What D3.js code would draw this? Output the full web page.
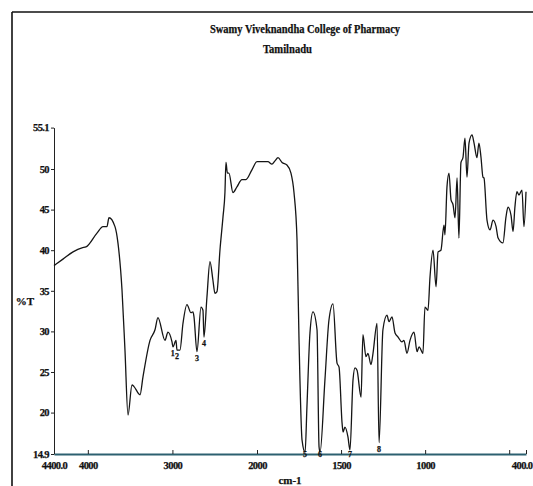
<!DOCTYPE html>
<html>
<head>
<meta charset="utf-8">
<script src="https://cdn.jsdelivr.net/npm/d3@7/dist/d3.min.js"></script>
<style>
html,body{margin:0;padding:0;background:#fff;}
svg{display:block;}
text{font-family:"Liberation Serif","DejaVu Serif",serif;font-weight:bold;fill:#111;stroke:#111;stroke-width:0.25px;}
</style>
</head>
<body>
<svg id="chart" width="533" height="486"></svg>
<script>
// ---- data ----
const wavenumbers = [4400,4294,4175,4069,4022,3892,3821,3774,3750,3679,3644,3596,3561,3525,3478,3454,3383,3348,3265,3206,3171,3088,3053,3005,2993,2958,2946,2911,2875,2828,2781,2757,2745,2710,2662,2639,2627,2592,2556,2521,2497,2473,2438,2402,2379,2367,2350,2332,2284,2237,2178,2131,2060,2000,1964,1935,1911,1893,1875,1851,1822,1798,1780,1762,1750,1732,1714,1703,1685,1667,1643,1631,1625,1596,1572,1548,1524,1512,1494,1488,1477,1459,1447,1429,1417,1405,1381,1370,1352,1340,1322,1310,1286,1274,1251,1227,1215,1197,1179,1161,1138,1126,1108,1090,1066,1048,1036,1013,1001,983,971,953,935,923,906,888,882,870,858,846,834,822,810,799,787,775,763,751,739,721,709,692,680,668,656,650,632,614,596,578,566,537,519,507,489,477,466,454,442,424,412,400];
const transmittance = [38.1,38.9,39.8,40.3,40.4,42.1,42.9,42.9,44.0,42.9,40.9,35.1,27.7,19.7,23.4,23.2,22.2,24.4,28.9,30.2,31.7,28.9,29.9,28.7,28.1,28.9,27.7,27.7,31.0,33.3,32.3,32.4,31.8,27.5,33.0,32.6,29.3,34.2,38.6,36.3,34.7,34.9,40.0,44.1,47.1,50.8,49.5,49.5,47.1,47.8,48.7,48.7,49.9,50.9,50.9,50.9,50.6,51.0,51.4,50.8,50.5,49.5,47.1,41.3,28.9,16.6,15.1,20.7,29.8,32.4,30.2,15.8,15.1,24.0,31.4,33.4,26.1,25.6,18.7,17.6,18.2,17.0,15.4,24.0,25.5,25.2,21.9,29.6,26.9,27.3,25.9,27.3,31.0,16.3,30.2,32.0,31.2,31.8,29.8,29.3,28.7,28.9,27.3,28.9,29.9,27.5,28.1,27.3,33.0,32.6,36.7,40.0,35.5,39.8,40.0,43.1,41.9,47.8,49.5,46.2,45.6,44.0,48.9,41.5,50.8,51.4,53.8,49.0,53.2,54.2,53.2,51.4,53.2,51.5,49.0,48.9,43.7,42.5,43.7,42.9,41.5,40.9,44.1,45.3,44.3,42.3,45.3,47.2,46.8,47.4,42.9,47.2];

const peakLabels = ["1","2","3","4","5","6","7","8"];
const peakWavenumbers = [2995,2946,2710,2627,1714,1625,1447,1274];
const peakTransmittance = [28.1,27.7,27.5,29.3,15.1,15.1,15.4,16.3];

const xTickValues = [4400,4000,3000,2000,1500,1000,500,400];
const xTickLabels = ["4400.0","4000","3000","2000","1500","1000","","400.0"];
const yTickValues = [14.9,20,25,30,35,40,45,50,55.1];
const yTickLabels = ["14.9","20","25","30","35","40","45","50","55.1"];

const titleLines = ["Swamy Viveknandha College of Pharmacy","Tamilnadu"];
const yAxisTitle = "%T";
const xAxisTitle = "cm-1";

// ---- chart ----
const svg = d3.select("#chart");

// scanned sheet border
svg.append("line").attr("x1",12).attr("y1",12).attr("x2",533).attr("y2",12)
  .attr("stroke","#111").attr("stroke-width",1.6);
svg.append("line").attr("x1",12).attr("y1",12).attr("x2",12).attr("y2",486)
  .attr("stroke","#111").attr("stroke-width",1.6);

// piecewise scale (scale change at 2000 cm-1)
const x = d3.scaleLinear().domain([4400,2000,400]).range([54,257,526]);
const y = d3.scaleLinear().domain([14.9,55.1]).range([454,127.6]);

// title
svg.append("text").attr("x",305).attr("y",33).attr("text-anchor","middle")
  .style("font-size","11.5px").attr("textLength",190).attr("lengthAdjust","spacingAndGlyphs")
  .text(titleLines[0]);
svg.append("text").attr("x",287.5).attr("y",53).attr("text-anchor","middle")
  .style("font-size","11.5px").attr("textLength",49).attr("lengthAdjust","spacingAndGlyphs")
  .text(titleLines[1]);

// y axis
const yAxis = d3.axisLeft(y).tickValues(yTickValues)
  .tickFormat((d,i)=>yTickLabels[i]).tickSizeInner(3).tickSizeOuter(0).tickPadding(2);
const gy = svg.append("g").attr("transform","translate(54,0)").call(yAxis);
gy.select(".domain").attr("stroke","#222").attr("stroke-width",1);
gy.selectAll(".tick line").attr("stroke","#222");
gy.selectAll(".tick text").style("font-size","10.5px").style("letter-spacing","-0.6px")
  .attr("font-family",null).attr("fill","#111");

// x axis
const xAxis = d3.axisBottom(x).tickValues(xTickValues)
  .tickFormat((d,i)=>xTickLabels[i]).tickSizeInner(-4).tickSizeOuter(0).tickPadding(8);
const gx = svg.append("g").attr("transform","translate(0,454)").call(xAxis);
gx.select(".domain").attr("stroke","#2c6070").attr("stroke-width",1.8);
gx.selectAll(".tick line").attr("stroke","#222");
gx.selectAll(".tick text").style("font-size","10.5px").style("letter-spacing","-0.6px")
  .attr("font-family",null).attr("fill","#111");
// keep the last label inside the page
gx.selectAll(".tick").filter(d=>d===400).select("text")
  .attr("text-anchor","end").attr("x",532-x(400));

// axis titles
svg.append("text").attr("x",25).attr("y",305).attr("text-anchor","middle")
  .style("font-size","11px").text(yAxisTitle);
svg.append("text").attr("x",290).attr("y",484).attr("text-anchor","middle")
  .style("font-size","11px").text(xAxisTitle);

// spectrum
const pts = wavenumbers.map((w,i)=>[w,transmittance[i]]);
const line = d3.line().x(d=>x(d[0])).y(d=>y(d[1])).curve(d3.curveMonotoneX);
svg.append("path").datum(pts).attr("d",line)
  .attr("fill","none").attr("stroke","#151515").attr("stroke-width",1.3)
  .attr("stroke-linejoin","round");

// peak markers
svg.selectAll(".peak").data(peakLabels).enter().append("text")
  .attr("class","peak")
  .attr("x",(d,i)=>x(peakWavenumbers[i]))
  .attr("y",(d,i)=>Math.min(y(peakTransmittance[i])+9, 457))
  .attr("text-anchor","middle")
  .style("font-size","8px")
  .text(d=>d);
</script>
</body>
</html>
